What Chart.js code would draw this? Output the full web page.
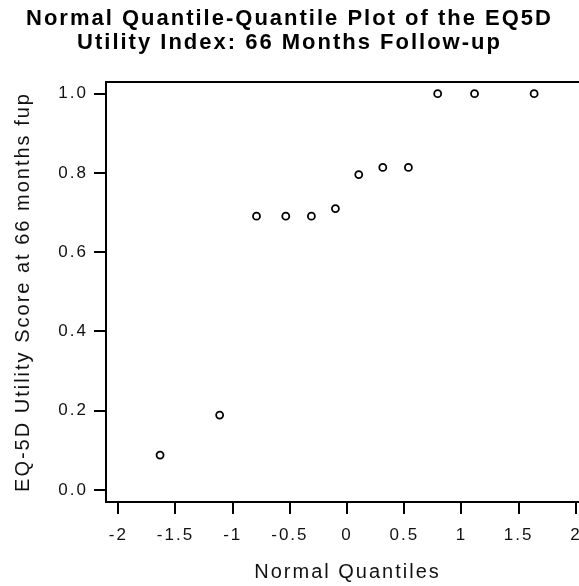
<!DOCTYPE html>
<html>
<head>
<meta charset="utf-8">
<script src="https://cdn.jsdelivr.net/npm/chart.js@4"></script>
<style>
  html, body { margin: 0; padding: 0; background: #fff; }
  canvas { display: block; }
</style>
</head>
<body>
<canvas id="qq" width="579" height="586"></canvas>
<script>
// normal quantiles (x) against the observed EQ-5D utility scores (y)
const quantiles = [-1.635, -1.114, -0.792, -0.536, -0.312, -0.102, 0.102, 0.312, 0.536, 0.792, 1.114, 1.635];
const utility = [0.088, 0.189, 0.691, 0.691, 0.691, 0.710, 0.796, 0.814, 0.814, 1.0, 1.0, 1.0];

const xTicks = [-2, -1.5, -1, -0.5, 0, 0.5, 1, 1.5, 2];
const yTicks = [0, 0.2, 0.4, 0.6, 0.8, 1.0];

const titleLines = ["Normal Quantile-Quantile Plot of the EQ5D", "Utility Index: 66 Months Follow-up"];
const xTitle = "Normal Quantiles";
const yTitle = "EQ-5D Utility Score at 66 months fup";

const FONT = "'Liberation Sans', Arial, sans-serif";
const PLOT_RIGHT = 589; // plot frame runs past the right edge of the canvas

// wide text tracking, like the original SAS output
const letterSpacing = {
  id: "letterSpacing",
  beforeDraw(chart) {
    chart.ctx.letterSpacing = "2px";
  },
};

// stretch the plot area to the right after layout, then re-map the x scale
const plotArea = {
  id: "plotArea",
  afterLayout(chart) {
    const a = chart.chartArea;
    const x = chart.scales.x;
    a.right = PLOT_RIGHT;
    a.width = a.right - a.left;
    x.right = a.right;
    x.width = a.width;
    x.configure();
  },
};

// axis lines: left, bottom and top of the plot area (right side is cut off)
const frame = {
  id: "frame",
  afterDatasetsDraw(chart) {
    const { ctx, chartArea: a, width } = chart;
    ctx.save();
    ctx.strokeStyle = "#000";
    ctx.lineWidth = 2;
    ctx.beginPath();
    ctx.moveTo(width + 2, a.top);
    ctx.lineTo(a.left, a.top);
    ctx.lineTo(a.left, a.bottom);
    ctx.lineTo(width + 2, a.bottom);
    ctx.stroke();
    ctx.restore();
  },
};

function main() {
  const points = quantiles.map((q, i) => ({ x: q, y: utility[i] }));

  new Chart(document.getElementById("qq"), {
    type: "scatter",
    data: {
      datasets: [{
        data: points,
        pointStyle: "circle",
        pointRadius: 3.5,
        pointHoverRadius: 3.5,
        pointBorderWidth: 1.8,
        pointBorderColor: "#000",
        pointBackgroundColor: "#fff",
      }],
    },
    options: {
      responsive: false,
      animation: false,
      plugins: {
        legend: { display: false },
        tooltip: { enabled: false },
        title: {
          display: true,
          text: titleLines,
          color: "#000",
          font: { family: FONT, size: 22, weight: "bold", lineHeight: 24 / 22 },
          padding: { top: 7, bottom: 27 },
        },
      },
      scales: {
        x: {
          type: "linear",
          min: -2.1075,
          max: 2.1146,
          afterBuildTicks(scale) {
            scale.ticks = xTicks.map((v) => ({ value: v }));
          },
          afterFit(scale) {
            scale.height = 84;
            scale.paddingLeft = 0;
            scale.paddingRight = 0;
          },
          border: { display: false },
          grid: { drawOnChartArea: false, drawTicks: true, tickLength: 12, lineWidth: 2, color: "#000", tickColor: "#000" },
          ticks: {
            color: "#111",
            padding: 11,
            maxRotation: 0,
            autoSkip: false,
            font: { family: FONT, size: 17 },
            callback: (v) => String(v),
          },
          title: {
            display: true,
            text: xTitle,
            color: "#111",
            font: { family: FONT, size: 20, lineHeight: 1.2 },
            padding: { top: 0, bottom: 2 },
          },
        },
        y: {
          type: "linear",
          min: -0.0303,
          max: 1.0295,
          afterBuildTicks(scale) {
            scale.ticks = yTicks.map((v) => ({ value: v }));
          },
          afterFit(scale) {
            scale.width = 106;
            scale.paddingTop = 0;
            scale.paddingBottom = 0;
          },
          border: { display: false },
          grid: { drawOnChartArea: false, drawTicks: true, tickLength: 12, lineWidth: 2, color: "#000", tickColor: "#000" },
          ticks: {
            color: "#111",
            padding: 6,
            autoSkip: false,
            font: { family: FONT, size: 17 },
            callback: (v) => v.toFixed(1),
          },
          title: {
            display: true,
            text: yTitle,
            color: "#111",
            font: { family: FONT, size: 20, lineHeight: 1.2 },
            padding: { top: 11.5, bottom: 0 },
          },
        },
      },
    },
    plugins: [letterSpacing, plotArea, frame],
  });
}

document.addEventListener("DOMContentLoaded", main);
</script>
</body>
</html>
